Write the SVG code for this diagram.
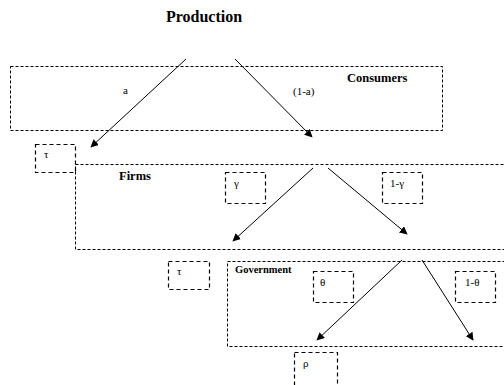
<svg xmlns="http://www.w3.org/2000/svg" width="504" height="385" viewBox="0 0 504 385">
<defs>
<style>
.big{fill:none;stroke:#000;stroke-width:1;stroke-dasharray:3,2}
.small{fill:none;stroke:#000;stroke-width:1.2;stroke-dasharray:4,3}
.t{font-family:"Liberation Serif","DejaVu Serif","Times New Roman",serif;font-size:11px;fill:#000}
.b{font-family:"Liberation Serif","Times New Roman",serif;font-weight:bold;fill:#000}
.c{stroke:#000;stroke-width:1;fill:none;marker-end:url(#ah)}
</style>
<marker id="ah" viewBox="0 0 10 10" refX="9" refY="5" markerWidth="8" markerHeight="8" markerUnits="userSpaceOnUse" orient="auto">
<path d="M0,0 L10,5 L0,10 z" fill="#000"/>
</marker>
</defs>
<rect width="504" height="385" fill="#fff"/>
<text class="b" x="204" y="22" font-size="16" text-anchor="middle">Production</text>
<g id="consumers">
<rect class="big" x="10.5" y="66.5" width="432" height="64"/>
<text class="b" x="347" y="82" font-size="12.5">Consumers</text>
<text class="t" x="123" y="94">a</text>
<text class="t" x="293" y="95">(1-a)</text>
</g>
<g id="tau1">
<rect class="small" x="35.5" y="144.5" width="40" height="28"/>
<text class="t" x="44" y="158">τ</text>
</g>
<g id="firms">
<rect class="big" x="75.5" y="164.5" width="440" height="85"/>
<text class="b" x="119" y="180" font-size="12.5">Firms</text>
</g>
<g id="gamma">
<rect class="small" x="225.5" y="172.5" width="40" height="31"/>
<text class="t" x="234" y="187">γ</text>
</g>
<g id="oneminusgamma">
<rect class="small" x="382.5" y="172.5" width="40" height="31"/>
<text class="t" x="390" y="187">1-γ</text>
</g>
<g id="tau2">
<rect class="small" x="168.5" y="261.5" width="41" height="28"/>
<text class="t" x="177" y="275">τ</text>
</g>
<g id="government">
<rect class="big" x="227.5" y="261.5" width="290" height="85"/>
<text class="b" x="235" y="273" font-size="10.5">Government</text>
</g>
<g id="theta">
<rect class="small" x="313.5" y="271.5" width="40" height="31"/>
<text class="t" x="320" y="286">θ</text>
</g>
<g id="oneminustheta">
<rect class="small" x="455.5" y="271.5" width="40" height="31"/>
<text class="t" x="465" y="286">1-θ</text>
</g>
<g id="rho">
<rect class="small" x="294.5" y="352.5" width="43" height="40"/>
<text class="t" x="303" y="367">ρ</text>
</g>
<g id="connectors">
<line class="c" x1="186" y1="59" x2="91" y2="147"/>
<line class="c" x1="235" y1="59" x2="312" y2="137"/>
<line class="c" x1="313" y1="168" x2="233" y2="241"/>
<line class="c" x1="328" y1="168" x2="407" y2="234"/>
<line class="c" x1="402" y1="260" x2="317" y2="340"/>
<line class="c" x1="422" y1="260" x2="473" y2="340"/>
</g>
</svg>
